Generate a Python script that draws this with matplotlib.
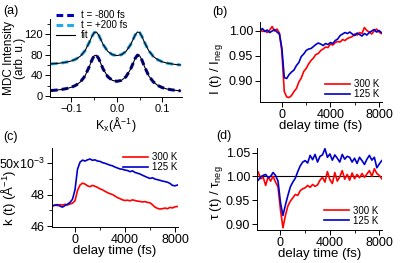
import numpy as np
import matplotlib
matplotlib.use("Agg")
import matplotlib.pyplot as plt
from matplotlib.ticker import MultipleLocator

plt.rcParams['font.family'] = ['Liberation Sans', 'DejaVu Sans']
plt.rcParams['mathtext.default'] = 'regular'
plt.rcParams['font.size'] = 8

# ---- panel (a): MDC cuts ----
kx = [-0.145, -0.14, -0.13, -0.12, -0.11, -0.10, -0.09, -0.08, -0.07, -0.06, -0.055, -0.05,
      -0.045, -0.04, -0.035, -0.03, -0.02, -0.01, 0.0, 0.01, 0.02, 0.03, 0.035, 0.04,
      0.045, 0.05, 0.055, 0.06, 0.07, 0.08, 0.09, 0.10, 0.11, 0.12, 0.13, 0.14]
mdc_m800 = [10.6, 10.9, 11.7, 12.9, 14.5, 17.0, 20.9, 27.5, 39.1, 58.6, 69.9, 78.3,
            79.5, 72.9, 62.4, 52.1, 37.5, 30.5, 28.5, 30.5, 37.5, 52.1, 62.4, 72.9,
            79.5, 78.3, 69.9, 58.6, 39.1, 27.5, 20.4, 16.2, 13.6, 12.0, 10.8, 10.0]
mdc_p200 = [62.5, 62.8, 63.5, 64.6, 66.1, 68.3, 71.8, 77.8, 88.2, 105.7, 115.9, 123.5,
            124.6, 118.6, 109.2, 99.9, 86.8, 80.5, 78.7, 80.5, 86.8, 99.9, 109.2, 118.6,
            124.6, 123.5, 115.9, 105.7, 88.2, 77.0, 70.5, 66.5, 64.0, 62.5, 61.2, 60.4]

# ---- delay-time traces ----
delay = np.arange(-1800, 8201, 200)

I_300 = [1.002, 0.998, 1.000, 0.996, 1.001, 1.008, 0.999, 1.003, 0.995, 0.958,
         0.878, 0.867, 0.866, 0.870, 0.878, 0.884, 0.897, 0.905, 0.918, 0.924,
         0.933, 0.940, 0.945, 0.952, 0.954, 0.960, 0.963, 0.967, 0.966, 0.973,
         0.971, 0.976, 0.978, 0.977, 0.982, 0.980, 0.984, 0.986, 0.988, 0.993,
         0.991, 0.996, 0.994, 1.006, 1.000, 0.997, 0.993, 0.999, 1.003, 0.997, 0.994]
I_125 = [1.000, 1.004, 0.998, 1.001, 0.996, 0.999, 1.002, 0.997, 0.993, 0.965,
         0.906, 0.904, 0.912, 0.917, 0.921, 0.930, 0.936, 0.948, 0.953, 0.960,
         0.963, 0.964, 0.968, 0.972, 0.975, 0.973, 0.970, 0.974, 0.972, 0.976,
         0.974, 0.980, 0.983, 0.990, 0.993, 0.996, 0.994, 0.997, 0.993, 0.990,
         0.995, 0.992, 0.989, 0.994, 0.991, 0.996, 0.999, 1.002, 0.997, 1.000, 0.996]

k_300 = [47.28, 47.32, 47.30, 47.36, 47.33, 47.38, 47.34, 47.40, 47.45, 47.60,
         48.25, 48.60, 48.72, 48.66, 48.55, 48.50, 48.58, 48.52, 48.45, 48.36,
         48.30, 48.20, 48.12, 48.05, 48.00, 47.90, 47.80, 47.74, 47.66, 47.62,
         47.64, 47.60, 47.66, 47.62, 47.58, 47.56, 47.53, 47.55, 47.50, 47.47,
         47.35, 47.20, 47.12, 47.08, 47.10, 47.14, 47.10, 47.18, 47.15, 47.22, 47.24]
k_125 = [47.28, 47.33, 47.36, 47.26, 47.20, 47.30, 47.38, 47.50, 47.70, 48.30,
         49.60, 50.05, 50.18, 50.12, 50.20, 50.25, 50.17, 50.20, 50.12, 50.10,
         50.02, 49.98, 49.92, 49.86, 49.82, 49.74, 49.68, 49.62, 49.60, 49.55,
         49.52, 49.45, 49.50, 49.40, 49.35, 49.30, 49.22, 49.15, 49.08, 49.02,
         49.06, 48.98, 48.94, 48.90, 48.85, 48.82, 48.78, 48.70, 48.58, 48.55, 48.60]

tau_300 = [1.009, 0.995, 0.998, 0.981, 0.999, 0.990, 1.000, 0.988, 0.978, 0.930,
           0.892, 0.918, 0.938, 0.948, 0.955, 0.962, 0.960, 0.970, 0.974, 0.976,
           0.981, 0.977, 0.983, 0.979, 0.982, 0.992, 0.998, 0.988, 1.010, 0.993,
           0.985, 1.008, 0.990, 0.999, 1.012, 0.994, 1.004, 0.992, 1.007, 0.995,
           1.004, 0.997, 1.006, 0.998, 1.005, 1.012, 1.000, 1.016, 1.006, 1.002, 0.995]
tau_125 = [0.992, 0.999, 1.002, 1.004, 0.997, 1.000, 1.008, 1.002, 0.990, 0.945,
           0.918, 0.940, 0.960, 0.978, 0.988, 0.996, 1.010, 1.022, 1.030, 1.033,
           1.028, 1.044, 1.035, 1.046, 1.030, 1.042, 1.045, 1.058, 1.040, 1.047,
           1.034, 1.045, 1.038, 1.030, 1.046, 1.036, 1.042, 1.040, 1.030, 1.038,
           1.027, 1.040, 1.033, 1.025, 1.036, 1.044, 1.034, 1.040, 1.018, 1.026, 1.033]

red = '#ff0000'
blue = '#0000cc'
TICK = 9
LAB = 9.5
LEG = 7

fig = plt.figure(figsize=(4.15, 2.63), dpi=100)
axa = fig.add_axes([0.1205, 0.6312, 0.318, 0.2966])
axb = fig.add_axes([0.6265, 0.6122, 0.294, 0.304])
axc = fig.add_axes([0.1253, 0.1369, 0.3036, 0.3004])
axd = fig.add_axes([0.6193, 0.1255, 0.3012, 0.3118])

for ax in (axa, axb, axc, axd):
    ax.spines['top'].set_visible(False)
    ax.spines['right'].set_visible(False)
    ax.tick_params(which='both', direction='out', labelsize=TICK, pad=1.5)
    ax.tick_params(which='major', length=3.5, width=0.7)
    ax.tick_params(which='minor', length=2, width=0.6)
    for s in ('left', 'bottom'):
        ax.spines[s].set_linewidth(0.7)

# (a)
axa.plot(kx, mdc_m800, '--', color='#0000bb', lw=2.2, dashes=(2.2, 1.3), label='t = -800 fs')
axa.plot(kx, mdc_p200, '--', color='#22aaee', lw=2.2, dashes=(2.2, 1.3), label='t = +200 fs')
axa.plot(kx, mdc_m800, '-', color='black', lw=0.8, label='fit')
axa.plot(kx, mdc_p200, '-', color='black', lw=0.8)
axa.tick_params(which='both', labelsize=8)
axa.set_xlim(-0.147, 0.143)
axa.set_ylim(-2, 150)
axa.set_yticks([0, 40, 80, 120])
axa.yaxis.set_minor_locator(MultipleLocator(20))
axa.set_xticks([-0.1, 0.0, 0.1])
axa.xaxis.set_minor_locator(MultipleLocator(0.05))
axa.set_xlabel('K$_x$(Å$^{-1}$)', fontsize=9, labelpad=1)
axa.set_ylabel('MDC Intensity\n(arb. u.)', fontsize=8.5, linespacing=0.85)
axa.yaxis.set_label_coords(-0.185, 0.5)
axa.legend(loc='upper left', bbox_to_anchor=(0.0, 1.19), frameon=False, fontsize=LEG,
           handlelength=2.0, handletextpad=0.6, labelspacing=0.0, borderpad=0.1)

# (b)
axb.plot(delay, I_300, color=red, lw=1.2, label='300 K')
axb.plot(delay, I_125, color=blue, lw=1.2, label='125 K')
axb.set_xlim(-1800, 8250)
axb.set_ylim(0.857, 1.017)
axb.set_yticks([0.90, 0.95, 1.00])
axb.set_yticklabels(['0.90', '0.95', '1.00'])
axb.set_ylabel('I (t) / I$_{neg}$', fontsize=LAB)
axb.yaxis.set_label_coords(-0.285, 0.41)

# (c)
axc.plot(delay, k_300, color=red, lw=1.2, label='300 K')
axc.plot(delay, k_125, color=blue, lw=1.2, label='125 K')
axc.set_xlim(-1840, 8240)
axc.set_ylim(45.94, 50.95)
axc.set_yticks([46, 48, 50])
axc.set_yticklabels(['46', '48', '50x10$^{-3}$'])
axc.yaxis.set_minor_locator(MultipleLocator(1))
axc.set_ylabel('k (t) (Å$^{-1}$)', fontsize=LAB)
axc.yaxis.set_label_coords(-0.27, 0.37)

# (d)
axd.axhline(1.0, color='black', lw=0.8)
axd.plot(delay, tau_300, color=red, lw=1.2, label='300 K')
axd.plot(delay, tau_125, color=blue, lw=1.2, label='125 K')
axd.set_xlim(-1900, 8220)
axd.set_ylim(0.8875, 1.0595)
axd.set_yticks([0.90, 0.95, 1.00, 1.05])
axd.set_yticklabels(['0.90', '0.95', '1.00', '1.05'])
axd.set_ylabel('τ (t) / τ$_{neg}$', fontsize=LAB)
axd.yaxis.set_label_coords(-0.255, 0.45)

for ax in (axb, axc, axd):
    ax.set_xticks([0, 4000, 8000])
    ax.xaxis.set_minor_locator(MultipleLocator(2000))
    ax.set_xlabel('delay time (fs)', fontsize=LAB, labelpad=-1)

axb.legend(loc='lower right', frameon=False, fontsize=LEG, handlelength=2.6,
           handletextpad=0.4, labelspacing=0.0, borderpad=0.1, borderaxespad=0.2)
axc.legend(loc='upper right', bbox_to_anchor=(1.04, 1.02), frameon=False, fontsize=LEG,
           handlelength=2.6, handletextpad=0.4, labelspacing=0.0, borderpad=0.1)
axd.legend(loc='lower right', bbox_to_anchor=(1.02, -0.02), frameon=False, fontsize=LEG,
           handlelength=2.6, handletextpad=0.4, labelspacing=0.0, borderpad=0.1)

fig.text(0.008, 0.982, '(a)', fontsize=9, va='top')
fig.text(0.511, 0.976, '(b)', fontsize=9, va='top')
fig.text(0.008, 0.502, '(c)', fontsize=9, va='top')
fig.text(0.522, 0.504, '(d)', fontsize=9, va='top')

fig.savefig('out.png', dpi=100)
